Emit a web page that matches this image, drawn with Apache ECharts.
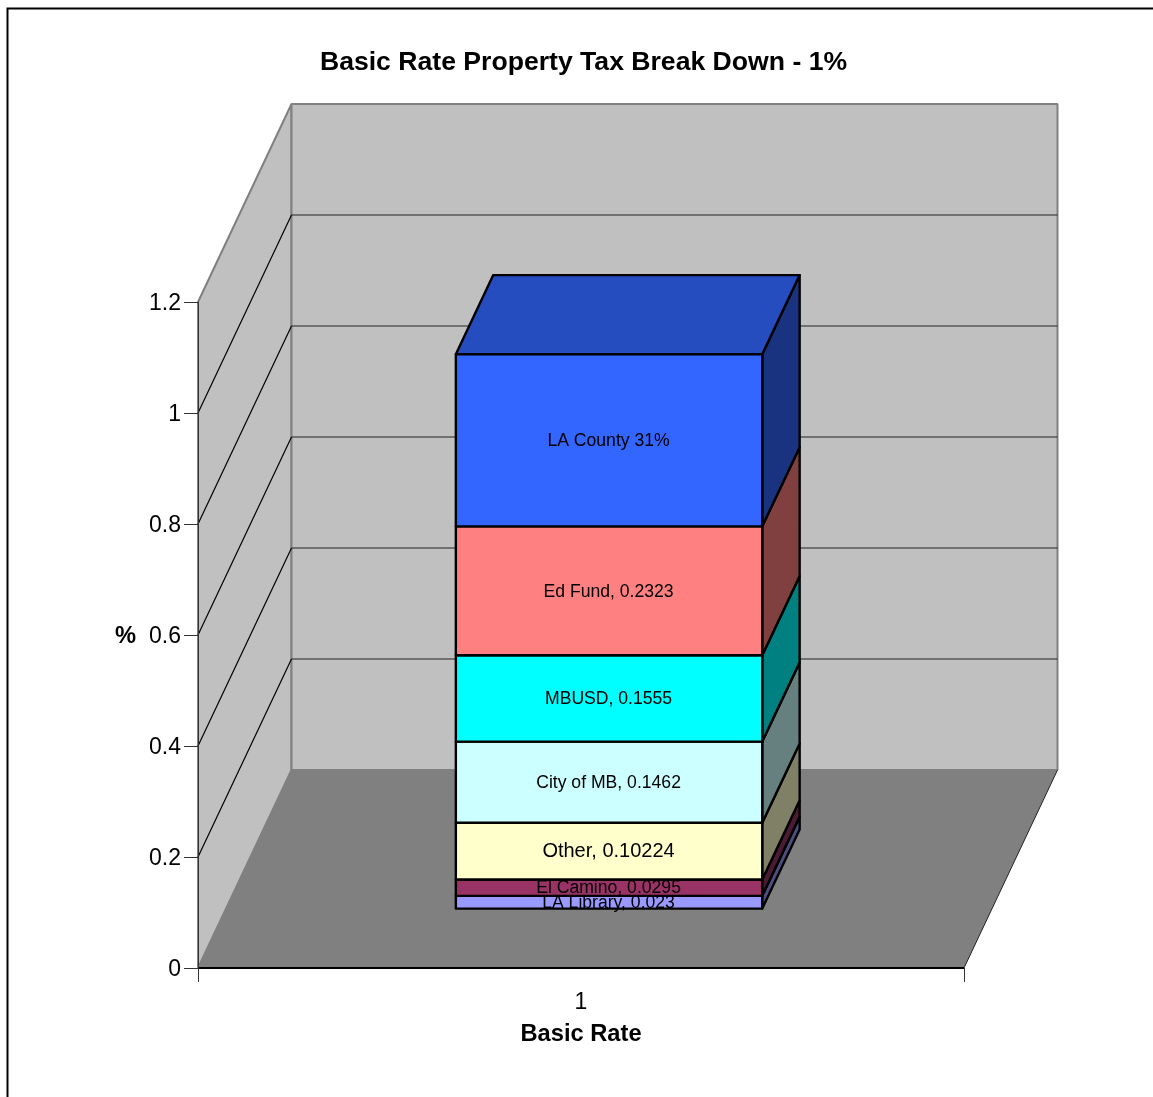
<!DOCTYPE html>
<html>
<head>
<meta charset="utf-8">
<style>html,body{margin:0;padding:0;background:#fff;overflow:hidden}#c{width:1153px;height:1097px}</style>
<script src="https://cdn.jsdelivr.net/npm/echarts@6/dist/echarts.min.js"></script>
</head>
<body>
<div id="c"></div>
<script>
var titleText = 'Basic Rate Property Tax Break Down - 1%';
var categories = ['1'];
var yTicks = [0, 0.2, 0.4, 0.6, 0.8, 1, 1.2];
var sliceValues = [0.023, 0.0295, 0.10224, 0.1462, 0.1555, 0.2323, 0.31];
var sliceLabels = ['LA Library, 0.023', 'El Camino, 0.0295', 'Other, 0.10224', 'City of MB, 0.1462', 'MBUSD, 0.1555', 'Ed Fund, 0.2323', 'LA County 31%'];
var sliceColors = ['#9999FF', '#993366', '#FFFFCC', '#CCFFFF', '#00FFFF', '#FF8080', '#3366FF'];
var sideColors  = ['#4D4D80', '#4D1A33', '#808066', '#668080', '#008080', '#804040', '#193380'];
var labelSizes  = [17.6, 17.6, 20, 17.6, 17.6, 17.6, 17.6];
var labelNudge  = [1, 0, 0, 1, 1, 1, 1];
var topColor = '#264DBF';

var DX = 93.5, DY = -198;        // projected depth of the chart box
var BAR_RATIO = 0.4, GAP_RATIO = 0.3;

function wallItem(params, api) {
  var cs = params.coordSys;
  var x0 = cs.x, x1 = cs.x + cs.width, y0 = cs.y + cs.height, yT = cs.y;
  return {type: 'group', children: [
    {type: 'polygon', shape: {points: [[x0, y0], [x0 + DX, y0 + DY], [x0 + DX, yT + DY], [x0, yT]]},
     style: {fill: '#C0C0C0', stroke: '#808080', lineWidth: 2, lineJoin: 'bevel'}},
    {type: 'polygon', shape: {points: [[x0 + DX, y0 + DY], [x1 + DX, y0 + DY], [x1 + DX, yT + DY], [x0 + DX, yT + DY]]},
     style: {fill: '#C0C0C0', stroke: '#808080', lineWidth: 2, lineJoin: 'bevel'}},
    {type: 'polygon', shape: {points: [[x0, y0], [x1, y0], [x1 + DX, y0 + DY], [x0 + DX, y0 + DY]]},
     style: {fill: '#808080'}},
    {type: 'line', shape: {x1: x1, y1: y0, x2: x1 + DX, y2: y0 + DY}, style: {stroke: '#222', lineWidth: 1}},
    {type: 'line', shape: {x1: x0, y1: y0, x2: x1, y2: y0}, style: {stroke: '#000', lineWidth: 2}}
  ]};
}

function gridItem(params, api) {
  var cs = params.coordSys;
  var y = api.coord([0, api.value(0)])[1];
  var x0 = cs.x, x1 = cs.x + cs.width;
  return {type: 'group', children: [
    {type: 'line', shape: {x1: x0, y1: y, x2: x0 + DX, y2: y + DY}, style: {stroke: '#000', lineWidth: 1.2}},
    {type: 'line', shape: {x1: x0 + DX, y1: y + DY, x2: x1 + DX, y2: y + DY}, style: {stroke: '#222', lineWidth: 1.2}}
  ]};
}

function sliceRender(index, isTop) {
  return function (params, api) {
    var band = api.size([1, 0])[0];
    var cx = api.coord([api.value(0), 0])[0];
    var yA = api.coord([0, api.value(1)])[1];
    var yB = api.coord([0, api.value(2)])[1];
    var ox = DX * GAP_RATIO, oy = DY * GAP_RATIO;
    var bx = DX * BAR_RATIO, by = DY * BAR_RATIO;
    var L = cx - band * BAR_RATIO / 2 + ox, R = cx + band * BAR_RATIO / 2 + ox;
    var B = yA + oy, T = yB + oy;
    var black = {stroke: '#000', lineWidth: 2.4, lineJoin: 'round'};
    var kids = [
      {type: 'polygon', shape: {points: [[R, B], [R + bx, B + by], [R + bx, T + by], [R, T]]},
       style: Object.assign({fill: sideColors[index]}, black)}
    ];
    if (isTop) {
      kids.push({type: 'polygon', shape: {points: [[L, T], [R, T], [R + bx, T + by], [L + bx, T + by]]},
        style: Object.assign({fill: topColor}, black)});
    }
    kids.push({type: 'polygon', shape: {points: [[L, B], [R, B], [R, T], [L, T]]},
      style: Object.assign({fill: sliceColors[index]}, black)});
    kids.push({type: 'text', x: (L + R) / 2 - 0.5, y: (B + T) / 2 + labelNudge[index],
      style: {text: sliceLabels[index], fill: '#000', align: 'center', verticalAlign: 'middle',
        font: labelSizes[index] + 'px "Liberation Sans", Arial, sans-serif'}});
    return {type: 'group', children: kids};
  };
}

var series = [
  {type: 'custom', coordinateSystem: 'cartesian2d', clip: false, silent: true, z: 1, data: [[0]], renderItem: wallItem},
  {type: 'custom', coordinateSystem: 'cartesian2d', clip: false, silent: true, z: 2,
   encode: {y: 0}, data: yTicks.slice(1, -1).map(function (v) { return [v]; }), renderItem: gridItem}
];
var base = 0;
sliceValues.forEach(function (v, i) {
  series.push({type: 'custom', coordinateSystem: 'cartesian2d', clip: false, silent: true, z: 3 + i,
    name: sliceLabels[i], encode: {x: 0, y: 2},
    data: [[0, base, base + v]], renderItem: sliceRender(i, i === sliceValues.length - 1)});
  base += v;
});

var font = '"Liberation Sans", Arial, sans-serif';
var chart = echarts.init(document.getElementById('c'), null, {renderer: 'canvas'});
chart.setOption({
  animation: false,
  backgroundColor: '#fff',
  title: {text: titleText, left: 578.5, top: 44, textAlign: 'center',
    textStyle: {fontFamily: font, fontSize: 26.6, fontWeight: 'bold', color: '#000'}},
  grid: {left: 198, top: 302, width: 766, height: 666, containLabel: false},
  xAxis: {type: 'category', data: categories, z: 30,
    name: 'Basic Rate', nameLocation: 'middle', nameGap: 54,
    nameTextStyle: {fontFamily: font, fontSize: 23.7, fontWeight: 'bold', color: '#000'},
    axisLine: {lineStyle: {color: '#000', width: 1}},
    axisTick: {show: true, length: 14, alignWithLabel: false, lineStyle: {color: '#333', width: 1}},
    axisLabel: {margin: 23, fontFamily: font, fontSize: 23, color: '#000'},
    splitLine: {show: false}},
  yAxis: {type: 'value', min: 0, max: 1.2, interval: 0.2, z: 30,
    name: '%', nameLocation: 'middle', nameGap: 62, nameRotate: 0,
    nameTextStyle: {fontFamily: font, fontSize: 23.7, fontWeight: 'bold', color: '#000', verticalAlign: 'top', lineHeight: 2},
    axisLine: {show: true, lineStyle: {color: '#333', width: 1}},
    axisTick: {show: true, length: 14, lineStyle: {color: '#333', width: 1}},
    axisLabel: {margin: 17, fontFamily: font, fontSize: 23, color: '#000', verticalAlign: 'top', lineHeight: 3},
    splitLine: {show: false}},
  graphic: [{type: 'rect', left: 5, top: 6, silent: true, z: -1,
    shape: {x: 0, y: 0, width: 1300, height: 1300}, style: {fill: 'none', stroke: '#000', lineWidth: 2}}],
  series: series
});
</script>
</body>
</html>
